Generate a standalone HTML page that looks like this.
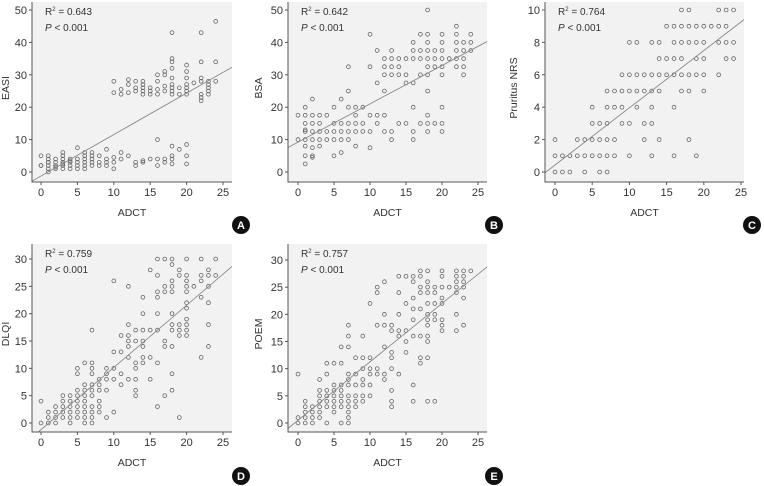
<!DOCTYPE html>
<html><head><meta charset="utf-8">
<style>
html,body{margin:0;padding:0;background:#fff;}
svg{display:block;font-family:"Liberation Sans",sans-serif;}
</style></head>
<body>
<svg id="chart" width="764" height="486" viewBox="0 0 764 486" xmlns="http://www.w3.org/2000/svg"></svg>
<script>
// ---- data (x = ADCT) ----
const easiData = {0:[2,2,5],1:[0,1,2,3,3,4,5],2:[1,1.5,2,3,4],3:[1,2,2.5,3,4,5,6],4:[1,2,3,3.5,4],5:[1,2,3,4,7.5],6:[1,2,3,4,5,6],7:[2,3,4,5,6],8:[2,3,5],9:[2,3,4,7],10:[1,3,4.5,24.5,28],11:[4,6,24,25.5],12:[5,24.5,27,28.5],13:[2,3,25,26,28],14:[3,3.5,24,25,26,27,28],15:[4,24,25,26],16:[2,4,10,24,25.5,28,30],17:[3,4,25,26.5,30,31],18:[2.5,4,5,8,24,25,26,27,29,32,34,35,43],19:[7,24,26],20:[2.5,5,8.5,24,25,26,27,29,31,33],21:[27.5],22:[22,23,24,28,29,34,43],23:[24,25,26,27,28],24:[28,34,46.5]};
const bsaData = {0:[10,17.5],1:[2.5,5,8,10,12.5,13,15,17.5,20],2:[4.5,5,7.5,10,12.5,15,17.5,22.5],3:[8,10,12.5,15,17.5],4:[10,12.5,17.5],5:[5,10,12.5,15,20],6:[6,10,12.5,15,22.5],7:[10,12.5,15,20,25,32.5],8:[8,12.5,15,17.5,20],9:[12.5,15,20],10:[7.5,12.5,17.5,32.5,42.5],11:[15,17.5,27.5,37.5],12:[12.5,17.5,25,30,32.5,35],13:[10,12.5,30,32.5,35,37.5],14:[15,30,32.5,35],15:[15,27.5,30,35],16:[10,12.5,20,27.5,35,37.5,40],17:[15,30,35,37.5,42.5],18:[12.5,15,17.5,25,30,32.5,35,37.5,40,42.5,50],19:[15,32.5,35,37.5],20:[12.5,15,20,30,32.5,35,37.5,40,42.5],21:[35],22:[32.5,35,37.5,40,42.5,45],23:[30,32.5,35,37.5,40],24:[37.5,40,42.5]};
const nrsData = {0:[0,1,2],1:[0,1],2:[0,1],3:[1,2],4:[0,1,2],5:[1,2,3,4],6:[0,1,2,3],7:[0,1,2,3,4,5],8:[1,2,4,5],9:[3,4,5,6],10:[1,3,5,6,8],11:[4,5,6,8],12:[2,3,5,6],13:[1,3,4,5,6,8],14:[2,5,6,7,8],15:[6,7,9],16:[1,4,6,7,8,9],17:[5,6,7,8,9,10],18:[2,5,6,8,9,10],19:[1,6,7,8,9],20:[5,6,7,8,9],21:[9],22:[6,8,9,10],23:[7,8,9,10],24:[7,8,10]};
const dlqiData = {0:[0,4],1:[0,1,2],2:[0,1,2,3],3:[1,2,3,4,5],4:[0,1,2,3,4,5],5:[1,2,3,4,5,6,9,10],6:[0,1,2,3,4,5,6,7,11],7:[0,1,2,3,5,6,7,9,10,11,17],8:[2,3,4,6,7,8],9:[1,6,8,9,10],10:[2,8,10,13,26],11:[7,9,13,16],12:[8,12,14,15,16,18,25],13:[5,6,8,10,11,15,17],14:[11,12,14,15,17,20,23],15:[8,12,17,28],16:[3,11,17,20,23,24,27,30],17:[5,14,15,24,25,30],18:[6,9,14,17,18,20,24,25,26,29,30],19:[1,16,17,18,27,28],20:[16,17,18,19,21,22,24,25,26,27,30],21:[25],22:[12,23,26,27,30],23:[14,18,22,25,27,28],24:[27,30]};
const poemData = {0:[0,1,9],1:[0,1,2,3,4],2:[0,1,2,3],3:[1,2,3,4,5,6,8],4:[0,3,4,5,6,9,11],5:[2,3,4,5,6,7,11],6:[0,3,4,5,6,7,11,14],7:[0,1,2,3,4,5,7,8,9,14,16,18],8:[3,4,5,7,9,12],9:[4,5,7,8,10,12,16],10:[5,7,9,10,12,22],11:[9,10,18,24,25],12:[8,9,14,18,20,26],13:[3,4,6,10,12,13,17,18],14:[9,16,17,20,24,27],15:[13,15,17,22,27],16:[4,7,16,19,21,23,26,27],17:[11,12,16,21,24,25,27,28],18:[4,12,15,16,18,19,20,22,24,25,26,28],19:[4,19,20,22,24,25],20:[17,18,19,22,23,25,27,28],21:[25],22:[17,20,24,25,26,27,28],23:[18,23,25,26,27,28],24:[28]};
const xTicks = [0,5,10,15,20,25];
const easiTicks = [0,10,20,30,40,50];
const bsaTicks = [0,10,20,30,40,50];
const nrsTicks = [0,2,4,6,8,10];
const dlqiTicks = [0,5,10,15,20,25,30];
const poemTicks = [0,5,10,15,20,25,30];
const r2Labels = ["0.643","0.642","0.764","0.759","0.757"];

// ---- layout ----
const panels = [
 {id:'a',letter:'A',ylabel:'EASI',data:easiData,yt:easiTicks,r2:r2Labels[0],L:32,R:232,T:2,B:182,x0:41,x25:223,y0:172,yTop:10,yTopVal:50,badge:[241,225],ylx:9},
 {id:'b',letter:'B',ylabel:'BSA',data:bsaData,yt:bsaTicks,r2:r2Labels[1],L:288,R:487,T:2,B:182,x0:298,x25:478,y0:172,yTop:10,yTopVal:50,badge:[494,225],ylx:262},
 {id:'c',letter:'C',ylabel:'Pruritus NRS',data:nrsData,yt:nrsTicks,r2:r2Labels[2],L:545,R:744,T:2,B:182,x0:555,x25:741,y0:172,yTop:10,yTopVal:10,badge:[752,225],ylx:517},
 {id:'d',letter:'D',ylabel:'DLQI',data:dlqiData,yt:dlqiTicks,r2:r2Labels[3],L:32,R:232,T:244,B:432,x0:41,x25:223,y0:423,yTop:259,yTopVal:30,badge:[241,476],ylx:9},
 {id:'e',letter:'E',ylabel:'POEM',data:poemData,yt:poemTicks,r2:r2Labels[4],L:288,R:487,T:244,B:432,x0:298,x25:478,y0:423,yTop:260,yTopVal:30,badge:[494,476],ylx:262}
];
const NS='http://www.w3.org/2000/svg';
const svg=document.getElementById('chart');
function mk(tag,attrs,parent){const e=document.createElementNS(NS,tag);for(const k in attrs)e.setAttribute(k,attrs[k]);(parent||svg).appendChild(e);return e;}

panels.forEach(p=>{
  const g=mk('g',{});
  
  
  const sx=v=>p.x0+(p.x25-p.x0)*v/25;
  const sy=v=>p.y0-(p.y0-p.yTop)*v/p.yTopVal;
  const bg=mk('rect',{x:p.L,y:p.T,width:p.R-p.L,height:p.B-p.T,fill:'#f2f2f2'},g);
  
  
  const pts=[];
  Object.keys(p.data).forEach(k=>{const x=+k;p.data[k].forEach(y=>pts.push([x,y]));});
  pts.forEach(([x,y])=>{
    const c=mk('circle',{cx:sx(x),cy:sy(y),r:1.9,fill:'none',stroke:'#666','stroke-width':0.8},g);
    
    
  });
  const n=pts.length;let mx=0,my=0;pts.forEach(q=>{mx+=q[0];my+=q[1];});mx/=n;my/=n;
  let sxy=0,sxx=0;pts.forEach(q=>{sxy+=(q[0]-mx)*(q[1]-my);sxx+=(q[0]-mx)**2;});
  const b=sxy/sxx,a=my-b*mx;
  const xa=(p.L-p.x0)/(p.x25-p.x0)*25, xb=(p.R-p.x0)/(p.x25-p.x0)*25;
  let x1=xa,y1=a+b*xa,x2=xb,y2=a+b*xb;
  const yMin=(p.y0-p.B)/(p.y0-p.yTop)*p.yTopVal, yMax=(p.y0-p.T)/(p.y0-p.yTop)*p.yTopVal;
  if(y1<yMin){x1=(yMin-a)/b;y1=yMin;} if(y2>yMax){x2=(yMax-a)/b;y2=yMax;}
  const ln=mk('line',{x1:sx(x1),y1:sy(y1),x2:sx(x2),y2:sy(y2),stroke:'#8a8a8a','stroke-width':0.9},g);
  
  
  const ax=mk('path',{d:`M${p.L} ${p.T}V${p.B}H${p.R}`,fill:'none',stroke:'#555','stroke-width':1},g);
  
  
  xTicks.forEach(t=>{
    mk('line',{x1:sx(t),x2:sx(t),y1:p.B,y2:p.B+3,stroke:'#555'},g);
    const tx=mk('text',{x:sx(t),y:p.B+14,'text-anchor':'middle','font-size':11,fill:'#333'},g);
    tx.textContent=t;
    
    
  });
  p.yt.forEach(t=>{
    mk('line',{x1:p.L-3,x2:p.L,y1:sy(t),y2:sy(t),stroke:'#555'},g);
    const tx=mk('text',{x:p.L-5,y:sy(t)+4,'text-anchor':'end','font-size':11,fill:'#333'},g);
    tx.textContent=t;
    
    
  });
  const xl=mk('text',{x:(p.L+p.R)/2,y:p.B+34,'text-anchor':'middle','font-size':10.5,fill:'#333'},g);
  xl.textContent='ADCT';
  
  
  const cy=(p.T+p.B)/2-4;
  const yl=mk('text',{x:p.ylx,y:cy,'text-anchor':'middle','font-size':10.5,fill:'#333',transform:`rotate(-90 ${p.ylx} ${cy})`},g);
  yl.textContent=p.ylabel;
  
  
  const r=mk('text',{x:p.L+13,y:p.T+13,'font-size':10,fill:'#333'},g);
  r.innerHTML='R<tspan font-size="6" dy="-4">2</tspan><tspan dy="4"> = '+p.r2+'</tspan>';
  
  
  const pv=mk('text',{x:p.L+13,y:p.T+29,'font-size':10,fill:'#333'},g);
  pv.innerHTML='<tspan font-style="italic">P</tspan> &lt; 0.001';
  
  
  const bc=mk('circle',{cx:p.badge[0],cy:p.badge[1],r:9,fill:'#111'},g);
  
  
  const bt=mk('text',{x:p.badge[0],y:p.badge[1]+4,'text-anchor':'middle','font-size':11,'font-weight':'bold',fill:'#fff'},g);
  bt.textContent=p.letter;
  
  
});
</script>
</body></html>
